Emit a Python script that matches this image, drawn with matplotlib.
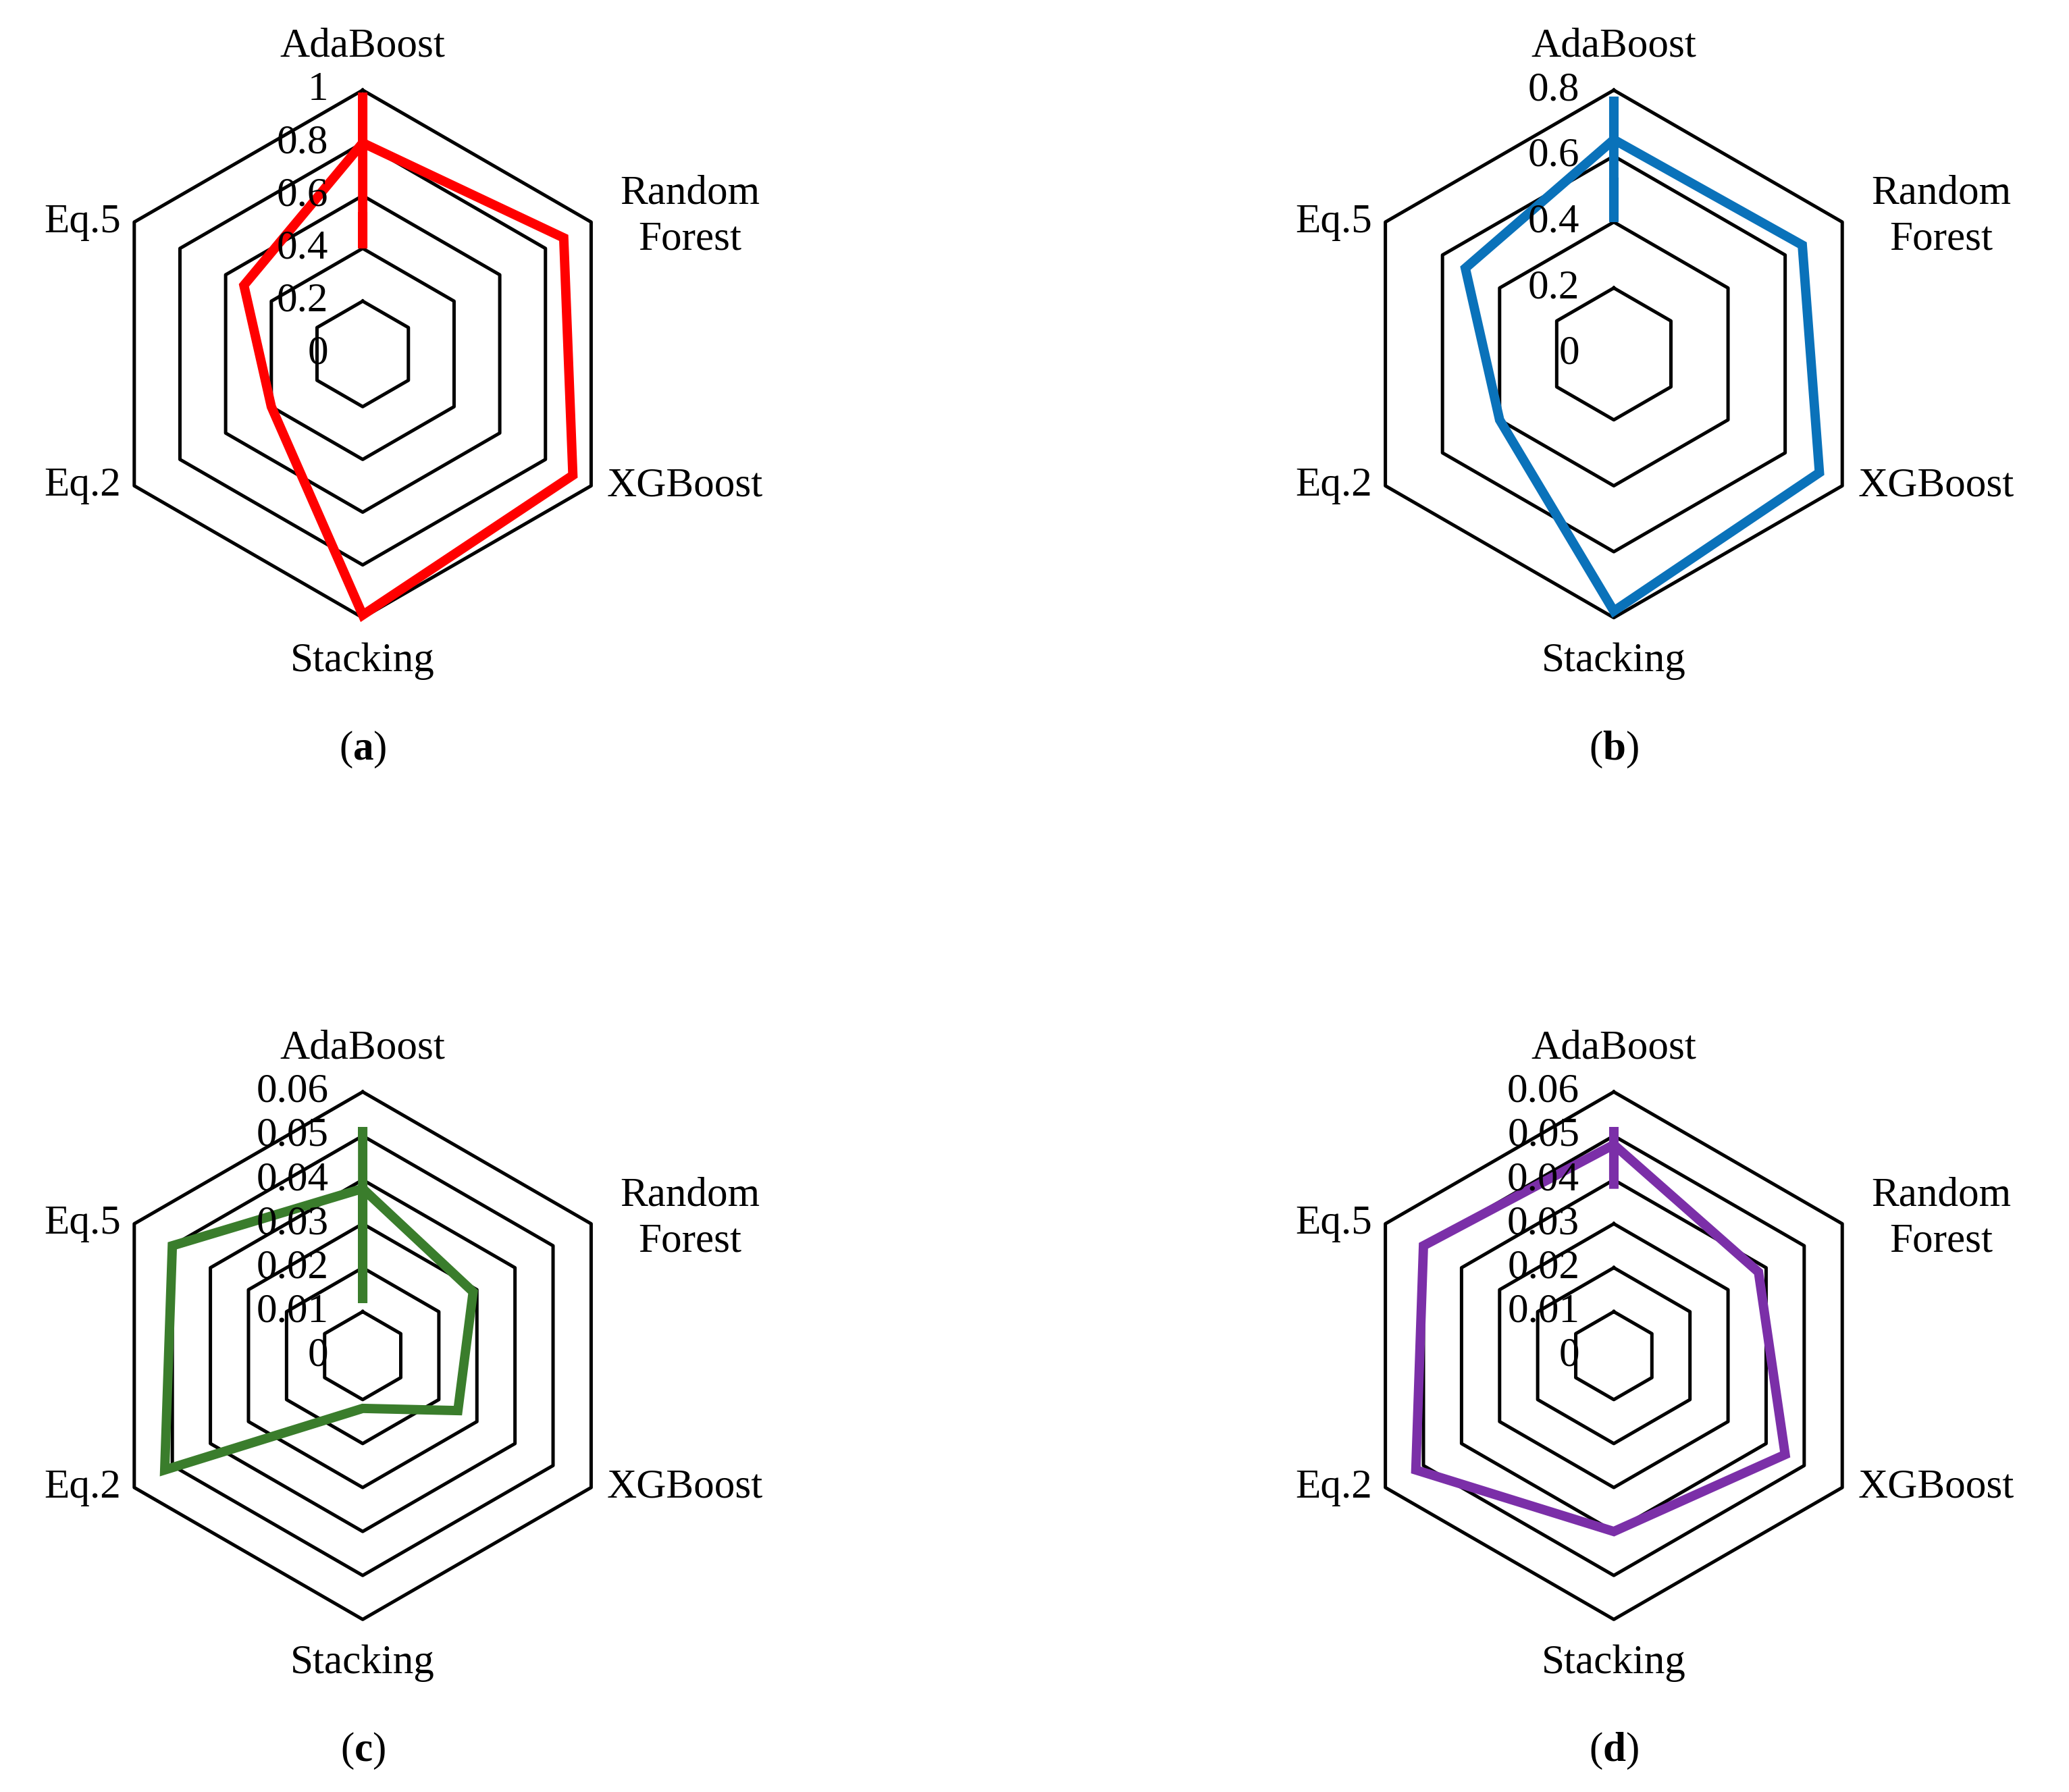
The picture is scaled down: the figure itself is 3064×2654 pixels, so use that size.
import numpy as np
import matplotlib
matplotlib.use("Agg")
import matplotlib.pyplot as plt

plt.rcParams['font.family'] = ['Liberation Serif', 'DejaVu Serif']
plt.rcParams['mathtext.fontset'] = 'custom'
plt.rcParams['mathtext.rm'] = 'Liberation Serif'
plt.rcParams['mathtext.bf'] = 'Liberation Serif:bold'

categories = ['AdaBoost', 'Random\nForest', 'XGBoost', 'Stacking', 'Eq.2', 'Eq.5']
vals_a = [0.80, 0.88, 0.92, 0.99, 0.40, 0.52]
vals_b = [0.65, 0.66, 0.72, 0.78, 0.40, 0.52]
vals_c = [0.038, 0.029, 0.025, 0.012, 0.052, 0.050]
vals_d = [0.048, 0.038, 0.045, 0.040, 0.052, 0.050]
ticks_a = [0, 0.2, 0.4, 0.6, 0.8, 1]
ticks_b = [0, 0.2, 0.4, 0.6, 0.8]
ticks_cd = [0, 0.01, 0.02, 0.03, 0.04, 0.05, 0.06]
tick_labels_a = ['0', '0.2', '0.4', '0.6', '0.8', '1']
tick_labels_b = ['0', '0.2', '0.4', '0.6', '0.8']
tick_labels_cd = ['0', '0.01', '0.02', '0.03', '0.04', '0.05', '0.06']

panels = [
    ('a', vals_a, ticks_a, tick_labels_a, '#ff0000', [-0.0287, 0.567, 0.408, 0.471]),
    ('b', vals_b, ticks_b, tick_labels_b, '#0a72ba', [0.576, 0.567, 0.408, 0.471]),
    ('c', vals_c, ticks_cd, tick_labels_cd, '#3a7d2c', [-0.0287, 0.008, 0.408, 0.471]),
    ('d', vals_d, ticks_cd, tick_labels_cd, '#7b2fa8', [0.576, 0.008, 0.408, 0.471]),
]

angles = np.deg2rad([90, 30, -30, -90, -150, 150])
fig = plt.figure(figsize=(15.32, 13.27), dpi=200)
FS = 22

for letter, vals, ticks, tlabels, color, rect in panels:
    ax = fig.add_axes(rect)
    ax.set_xlim(-1.6, 1.6)
    ax.set_ylim(-1.6, 1.6)
    ax.set_aspect('equal')
    ax.axis('off')
    vmax = ticks[-1]
    for t in ticks[1:]:
        r = t / vmax
        xs = np.append(r * np.cos(angles), r * np.cos(angles[0]))
        ys = np.append(r * np.sin(angles), r * np.sin(angles[0]))
        ax.plot(xs, ys, color='black', lw=1.8, zorder=1)
    for t, lab in zip(ticks, tlabels):
        ax.text(-0.13, t / vmax, lab, ha='right', va='center', fontsize=FS, zorder=3)
    r = np.array(vals) / vmax
    xs = np.append(r * np.cos(angles), r * np.cos(angles[0]))
    ys = np.append(r * np.sin(angles), r * np.sin(angles[0]))
    ax.plot(xs, ys, color=color, lw=5, zorder=2, solid_joinstyle='miter')
    # category labels
    vx, vy = np.cos(angles), np.sin(angles)
    ax.text(0, 1.165, categories[0], ha='center', va='center', fontsize=FS)
    ax.text(vx[1] + 0.375, vy[1] + 0.02, categories[1], ha='center', va='center', fontsize=FS, linespacing=1.3)
    ax.text(vx[2] + 0.06, vy[2], categories[2], ha='left', va='center', fontsize=FS)
    ax.text(0, -1.165, categories[3], ha='center', va='center', fontsize=FS)
    ax.text(vx[4] - 0.05, vy[4], categories[4], ha='right', va='center', fontsize=FS)
    ax.text(vx[5] - 0.05, vy[5], categories[5], ha='right', va='center', fontsize=FS)
    ax.text(0, -1.5, r'($\mathbf{' + letter + '}$)', ha='center', va='center', fontsize=FS)

fig.savefig('out.png', dpi=200)
